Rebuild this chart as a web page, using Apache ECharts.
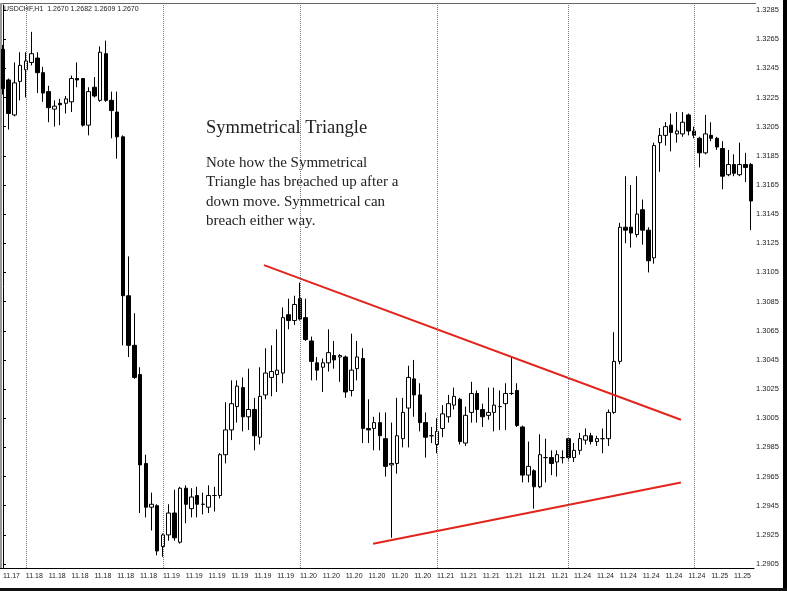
<!DOCTYPE html>
<html>
<head>
<meta charset="utf-8">
<script src="https://cdn.jsdelivr.net/npm/echarts@6/dist/echarts.min.js"></script>
</head>
<body style="margin:0;background:#fff">
<div id="main" style="width:787px;height:591px"></div>
<script>
// hourly bars, one day label per bar
var days = ['11.17', '11.18', '11.19', '11.20', '11.21', '11.24', '11.25'];
var barsPerDay = [4, 24, 24, 24, 23, 22, 11];

// [open, close, low, high]
var ohlc = [
  [1.3258, 1.3231, 1.3227, 1.3261], [1.3237, 1.3214, 1.3203, 1.3238], [1.3213, 1.3235, 1.3212, 1.3249],
  [1.3236, 1.3247, 1.3223, 1.3256], [1.3244, 1.3250, 1.3225, 1.3256], [1.3249, 1.3255, 1.3247, 1.3270],
  [1.3252, 1.3242, 1.3228, 1.3256], [1.3242, 1.3228, 1.3222, 1.3246], [1.3229, 1.3218, 1.3208, 1.3233],
  [1.3217, 1.3219, 1.3205, 1.3223], [1.3221, 1.3220, 1.3206, 1.3224], [1.3221, 1.3224, 1.3214, 1.3226],
  [1.3222, 1.3238, 1.3215, 1.3240], [1.3238, 1.3237, 1.3232, 1.3249], [1.3238, 1.3206, 1.3205, 1.3238],
  [1.3206, 1.3229, 1.3199, 1.3232], [1.3232, 1.3226, 1.3225, 1.3239], [1.3223, 1.3256, 1.3222, 1.3260],
  [1.3255, 1.3223, 1.3222, 1.3264], [1.3223, 1.3216, 1.3197, 1.3229], [1.3215, 1.3198, 1.3183, 1.3229],
  [1.3198, 1.3089, 1.3055, 1.3199], [1.3089, 1.3055, 1.3047, 1.3116], [1.3055, 1.3033, 1.3032, 1.3077],
  [1.3035, 1.2973, 1.2940, 1.3040], [1.2974, 1.2944, 1.2937, 1.2980], [1.2944, 1.2946, 1.2928, 1.2954],
  [1.2945, 1.2914, 1.2911, 1.2946], [1.2917, 1.2925, 1.2910, 1.2926], [1.2925, 1.2940, 1.2921, 1.2946],
  [1.2940, 1.2923, 1.2921, 1.2956], [1.2920, 1.2957, 1.2919, 1.2958], [1.2957, 1.2946, 1.2933, 1.2959],
  [1.2943, 1.2951, 1.2937, 1.2957], [1.2952, 1.2946, 1.2937, 1.2958], [1.2946, 1.2946, 1.2939, 1.2954],
  [1.2944, 1.2952, 1.2940, 1.2959], [1.2952, 1.2952, 1.2941, 1.2958], [1.2952, 1.2980, 1.2950, 1.2981],
  [1.2980, 1.2997, 1.2974, 1.3016], [1.2997, 1.3015, 1.2990, 1.3031], [1.3013, 1.3027, 1.3002, 1.3031],
  [1.3026, 1.3006, 1.2996, 1.3033], [1.3006, 1.3011, 1.2997, 1.3039], [1.3011, 1.2993, 1.2983, 1.3019],
  [1.2992, 1.3020, 1.2987, 1.3040], [1.3021, 1.3036, 1.3018, 1.3053], [1.3033, 1.3037, 1.3020, 1.3055],
  [1.3035, 1.3038, 1.3023, 1.3066], [1.3036, 1.3074, 1.3029, 1.3081], [1.3076, 1.3072, 1.3066, 1.3087],
  [1.3072, 1.3083, 1.3069, 1.3089], [1.3087, 1.3073, 1.3072, 1.3098], [1.3074, 1.3059, 1.3058, 1.3087],
  [1.3058, 1.3044, 1.3031, 1.3061], [1.3043, 1.3038, 1.3031, 1.3047], [1.3040, 1.3043, 1.3023, 1.3046],
  [1.3043, 1.3050, 1.3037, 1.3066], [1.3048, 1.3045, 1.3039, 1.3058], [1.3047, 1.3048, 1.3030, 1.3049],
  [1.3047, 1.3023, 1.3019, 1.3048], [1.3024, 1.3038, 1.3020, 1.3063], [1.3039, 1.3047, 1.3031, 1.3058],
  [1.3046, 1.2998, 1.2988, 1.3053], [1.2998, 1.2997, 1.2988, 1.3018], [1.2998, 1.3002, 1.2983, 1.3006],
  [1.3002, 1.2993, 1.2983, 1.3009], [1.2991, 1.2972, 1.2965, 1.3009], [1.2973, 1.2974, 1.2923, 1.3002],
  [1.2974, 1.2993, 1.2967, 1.3019], [1.2991, 1.3009, 1.2985, 1.3019], [1.3012, 1.3033, 1.2985, 1.3041],
  [1.3032, 1.3021, 1.3006, 1.3045], [1.3021, 1.3002, 1.2996, 1.3029], [1.3002, 1.2992, 1.2978, 1.3009],
  [1.2993, 1.2993, 1.2988, 1.2999], [1.2987, 1.2996, 1.2981, 1.3005], [1.2998, 1.3008, 1.2992, 1.3014],
  [1.3006, 1.3015, 1.3002, 1.3021], [1.3014, 1.3020, 1.3011, 1.3026], [1.3018, 1.2989, 1.2987, 1.3019],
  [1.2988, 1.3007, 1.2986, 1.3013], [1.3009, 1.3022, 1.3002, 1.3030], [1.3022, 1.3011, 1.3002, 1.3024],
  [1.3011, 1.3006, 1.2999, 1.3015], [1.3007, 1.3009, 1.3004, 1.3026], [1.3009, 1.3014, 1.2996, 1.3026],
  [1.3013, 1.3013, 1.2997, 1.3024], [1.3015, 1.3022, 1.2997, 1.3029], [1.3022, 1.3022, 1.3021, 1.3047],
  [1.3024, 1.3000, 1.2999, 1.3029], [1.2999, 1.2966, 1.2961, 1.3000], [1.2966, 1.2972, 1.2961, 1.2989],
  [1.2969, 1.2958, 1.2943, 1.2970], [1.2958, 1.2980, 1.2957, 1.2994], [1.2978, 1.2978, 1.2961, 1.2991],
  [1.2978, 1.2974, 1.2966, 1.2983], [1.2975, 1.2980, 1.2965, 1.2983], [1.2978, 1.2978, 1.2974, 1.2983],
  [1.2991, 1.2978, 1.2976, 1.2991], [1.2978, 1.2983, 1.2975, 1.2988], [1.2983, 1.2991, 1.2980, 1.2995],
  [1.2990, 1.2993, 1.2987, 1.2998], [1.2993, 1.2989, 1.2987, 1.2995], [1.2989, 1.2991, 1.2986, 1.2993],
  [1.2991, 1.2991, 1.2981, 1.2998], [1.2991, 1.3009, 1.2986, 1.3011], [1.3009, 1.3044, 1.3008, 1.3064],
  [1.3044, 1.3136, 1.3042, 1.3139], [1.3136, 1.3134, 1.3125, 1.3171], [1.3136, 1.3132, 1.3122, 1.3165],
  [1.3131, 1.3145, 1.3129, 1.3171], [1.3148, 1.3134, 1.3124, 1.3155], [1.3134, 1.3113, 1.3105, 1.3136],
  [1.3115, 1.3192, 1.3111, 1.3194], [1.3194, 1.3199, 1.3174, 1.3204], [1.3199, 1.3205, 1.3192, 1.3208],
  [1.3206, 1.3201, 1.3188, 1.3214], [1.3200, 1.3202, 1.3194, 1.3215], [1.3200, 1.3208, 1.3198, 1.3215],
  [1.3213, 1.3202, 1.3199, 1.3214], [1.3202, 1.3199, 1.3197, 1.3205], [1.3197, 1.3187, 1.3177, 1.3198],
  [1.3187, 1.3200, 1.3186, 1.3213], [1.3199, 1.3197, 1.3195, 1.3208], [1.3197, 1.3191, 1.3189, 1.3198],
  [1.3190, 1.3171, 1.3162, 1.3195], [1.3172, 1.3179, 1.3171, 1.3189], [1.3179, 1.3173, 1.3171, 1.3186],
  [1.3172, 1.3179, 1.3171, 1.3194], [1.3179, 1.3177, 1.3167, 1.3187], [1.3179, 1.3154, 1.3134, 1.3180]
];

var yTicks = [1.2905, 1.2925, 1.2945, 1.2965, 1.2985, 1.3005, 1.3025, 1.3045, 1.3065, 1.3085,
  1.3105, 1.3125, 1.3145, 1.3165, 1.3185, 1.3205, 1.3225, 1.3245, 1.3265, 1.3285];

// triangle lines, [bar index, price]
var upperLine = [[45.7, 1.3110], [118.7, 1.3004]];
var lowerLine = [[64.8, 1.2919], [118.7, 1.2961]];

var header = 'USDCHF,H1  1.2670 1.2682 1.2609 1.2670';
var title = 'Symmetrical Triangle';
var note = ['Note how the Symmetrical', 'Triangle has breached up after a', 'down move. Symmetrical can', 'breach either way.'];

// categories + day separators
var cats = [];
var dayStarts = [];
for (var d = 0; d < days.length; d++) {
  if (d > 0) dayStarts.push(cats.length);
  for (var k = 0; k < barsPerDay[d]; k++) cats.push(days[d]);
}
var n = cats.length;

var chart = echarts.init(document.getElementById('main'));

var option = {
  animation: false,
  backgroundColor: '#fff',
  grid: { left: 0, top: 5, width: 754, height: 563, show: false },
  xAxis: [
    {
      type: 'category',
      data: cats,
      boundaryGap: true,
      axisLine: { lineStyle: { color: '#000', width: 1 } },
      axisTick: { alignWithLabel: true, interval: 3, length: 3, lineStyle: { color: '#000' } },
      axisLabel: { interval: 3, align: 'left', fontSize: 7, color: '#222', margin: 5, fontFamily: 'Liberation Sans' },
      splitLine: { show: false }
    },
    { type: 'value', min: -0.5, max: n - 0.5, show: false }
  ],
  yAxis: {
    type: 'value',
    position: 'right',
    min: 1.29023,
    max: 1.32884,
    axisLine: { show: true, lineStyle: { color: '#000', width: 1 } },
    axisTick: { show: true, length: 3, customValues: yTicks, lineStyle: { color: '#000' } },
    axisLabel: {
      customValues: yTicks, fontSize: 7.5, color: '#222', margin: 2, fontFamily: 'Liberation Sans',
      formatter: function (v) { return v.toFixed(4); }
    },
    splitLine: { show: false }
  },
  series: [
    {
      type: 'candlestick',
      data: ohlc,
      barWidth: 4,
      itemStyle: { color: '#fff', color0: '#000', borderColor: '#000', borderColor0: '#000', borderWidth: 1 }
    },
    {
      type: 'line',
      xAxisIndex: 1,
      data: upperLine,
      symbol: 'none',
      lineStyle: { color: '#e3241c', width: 2 },
      markLine: {
        silent: true,
        symbol: 'none',
        label: { show: false },
        lineStyle: { color: '#777', type: 'dotted', width: 1 },
        data: dayStarts.map(function (i) { return { xAxis: i }; })
      }
    },
    {
      type: 'line',
      xAxisIndex: 1,
      data: lowerLine,
      symbol: 'none',
      lineStyle: { color: '#e3241c', width: 2 }
    }
  ],
  graphic: [
    { type: 'line', shape: { x1: 0, y1: 3.5, x2: 756, y2: 3.5 }, style: { stroke: '#666', lineWidth: 1 } },
    { type: 'line', shape: { x1: 1, y1: 3, x2: 1, y2: 568 }, style: { stroke: '#999', lineWidth: 2 } },
    { type: 'rect', shape: { x: 783, y: 0, width: 4, height: 591 }, style: { fill: '#000' } },
    { type: 'rect', shape: { x: 0, y: 588, width: 787, height: 3 }, style: { fill: '#111' } },
    {
      type: 'text', left: 4, top: 6,
      style: { text: header, fontSize: 7, fill: '#222', fontFamily: 'Liberation Sans' }
    },
    {
      type: 'text', left: 206, top: 119,
      style: { text: title, fontSize: 18.5, fill: '#222', fontFamily: 'Liberation Serif' }
    },
    {
      type: 'text', left: 206, top: 153,
      style: { text: note.join('\n'), fontSize: 15, lineHeight: 19.5, fill: '#222', fontFamily: 'Liberation Serif' }
    }
  ]
};

chart.setOption(option);
</script>
</body>
</html>
